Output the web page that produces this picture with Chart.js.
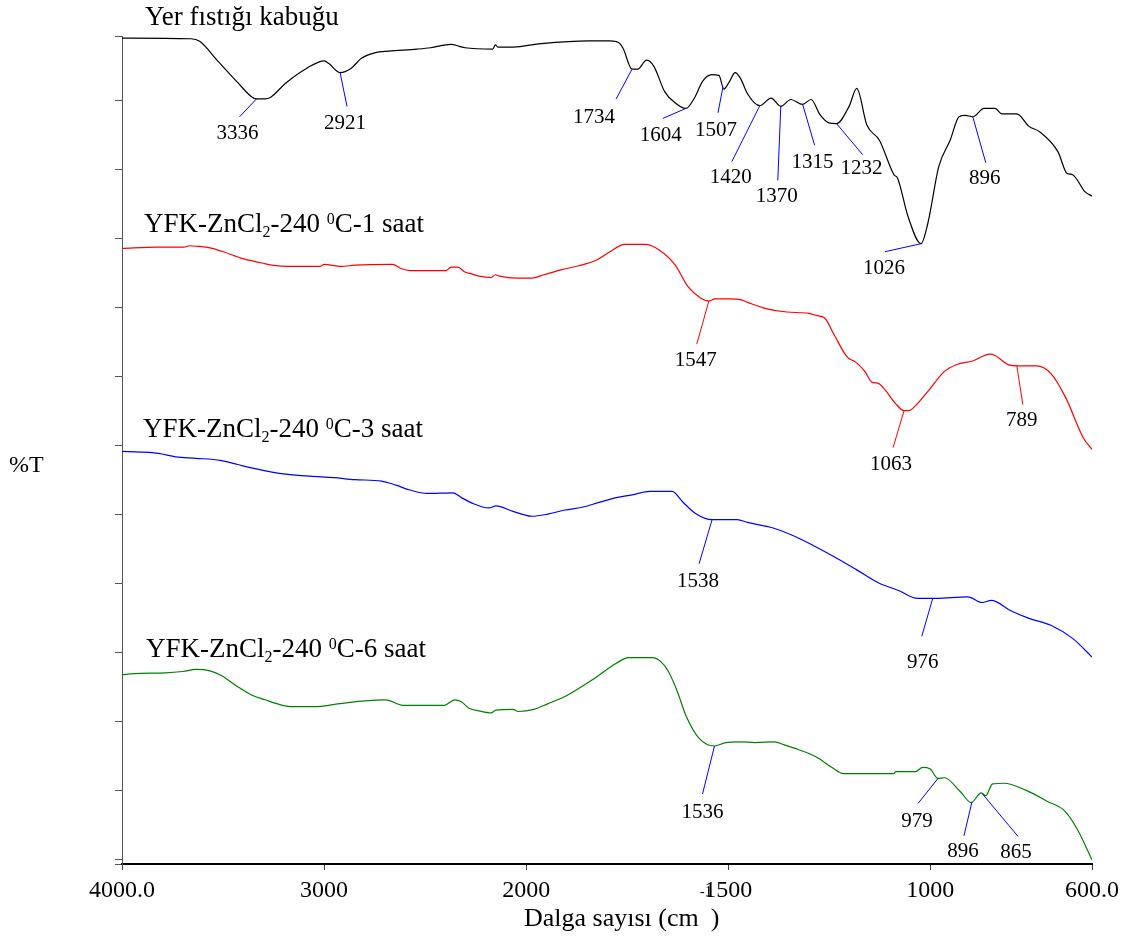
<!DOCTYPE html>
<html>
<head>
<meta charset="utf-8">
<title>FTIR - Yer fıstığı kabuğu</title>
<script src="https://cdn.jsdelivr.net/npm/chart.js@4.4.1/dist/chart.umd.min.js"></script>
<style>
  html, body { margin: 0; padding: 0; background: #fff; }
  #wrap { width: 1126px; height: 940px; }
</style>
</head>
<body>
<div id="wrap"><canvas id="ftirChart" width="1126" height="940"></canvas></div>
<script>
// x axis: wavenumber (cm-1), the scale is halved above 2000
const xTickValues = [4000, 3000, 2000, 1500, 1000, 600];
const xTickLabels = ["4000.0", "3000", "2000", "1500", "1000", "600.0"];
// y axis only has tick marks (stacked %T curves)
const yTickValues = [0, 0.7, 10.7, 20.7, 30.7, 40.7, 50.7, 60.7, 70.7, 80.7, 90.7, 100.7, 110.7, 120];

// [wavenumber, %T]
const shellSpectrum = [
  [4000, 119.7], [3659, 119.6], [3614, 119.2], [3530, 116.5], [3426, 113.2], [3359, 111.2],
  [3336, 110.9], [3293, 110.9], [3266, 111.1], [3189, 113.2], [3087, 115.3], [3000, 116.4],
  [2976, 116.0], [2921, 114.7], [2867, 115.3], [2814, 116.8], [2746, 117.6], [2679, 117.8],
  [2540, 118.1], [2473, 118.3], [2372, 118.8], [2330, 118.5], [2303, 118.3], [2166, 118.1],
  [2152, 118.7], [2140, 118.4], [2065, 118.4], [1963, 118.9], [1845, 119.3], [1794, 119.3],
  [1778, 119.2], [1768, 118.9],
  [1760, 118.2], [1738, 115.2], [1724, 115.2], [1702, 116.5], [1684, 115.6], [1657, 111.9],
  [1631, 110.3], [1605, 109.5], [1582, 111.2], [1564, 113.4], [1541, 114.4], [1523, 114.3],
  [1511, 112.3], [1497, 113.4], [1483, 114.7], [1470, 113.9], [1452, 111.6], [1422, 109.9],
  [1394, 111.0], [1370, 109.8], [1345, 110.8], [1316, 110.1], [1295, 110.8], [1273, 108.6],
  [1251, 107.4], [1232, 107.3], [1201, 109.8], [1182, 112.4], [1157, 107.1], [1126, 104.9],
  [1090, 99.9], [1081, 99.4], [1055, 93.8], [1023, 89.9], [1006, 92.9], [979, 101.1],
  [951, 104.9], [929, 108.3], [914, 108.5], [895, 108.3], [867, 109.5], [840, 109.5],
  [823, 108.7], [786, 108.7], [756, 106.9], [729, 106.1], [684, 103.2], [662, 100.1],
  [648, 99.9], [617, 97.4], [600, 96.8]
];
const zn1hSpectrum = [
  [4000, 89.2], [3827, 89.4], [3693, 89.4], [3666, 89.6], [3624, 89.5], [3565, 89.3],
  [3495, 88.7], [3411, 87.8], [3307, 87.1], [3258, 86.8], [3174, 86.6], [3020, 86.6],
  [3000, 86.9], [2916, 86.6], [2847, 86.8], [2661, 86.9], [2620, 86.3], [2575, 86.0],
  [2397, 86.0], [2372, 86.5], [2338, 86.5], [2303, 85.8], [2268, 85.5], [2234, 85.2],
  [2174, 85.0], [2152, 85.4], [2132, 85.2], [2047, 84.9], [1986, 84.9], [1956, 85.4],
  [1914, 86.1], [1870, 86.7], [1827, 87.5], [1794, 88.7], [1756, 89.8], [1706, 89.8],
  [1671, 89.0], [1631, 86.8], [1600, 83.7], [1568, 82.0], [1548, 81.6], [1533, 81.9],
  [1497, 81.9], [1470, 81.8], [1452, 81.4], [1407, 80.5], [1355, 80.0], [1300, 79.8],
  [1283, 79.5], [1261, 79.1], [1238, 76.7], [1206, 73.5], [1184, 72.7], [1162, 71.4],
  [1144, 69.8], [1130, 69.7], [1112, 68.7], [1087, 66.8], [1065, 65.7], [1053, 65.7],
  [1037, 66.4], [1006, 68.5], [965, 71.4], [934, 72.4], [895, 72.9], [853, 73.9],
  [840, 73.7], [804, 72.3], [782, 72.2], [737, 72.2], [702, 71.1], [666, 67.7],
  [621, 61.7], [600, 60.1]
];
const zn3hSpectrum = [
  [4000, 59.8], [3906, 59.7], [3819, 59.5], [3734, 59.0], [3634, 58.8], [3513, 58.5],
  [3428, 57.9], [3359, 57.4], [3258, 56.8], [3189, 56.5], [3070, 56.2], [2951, 56.0],
  [2847, 55.7], [2716, 55.5], [2644, 54.9], [2575, 54.2], [2491, 53.7], [2362, 53.8],
  [2320, 53.1], [2268, 52.3], [2184, 51.6], [2150, 51.9], [2065, 51.1], [1986, 50.4],
  [1947, 50.7], [1904, 51.3], [1862, 51.7], [1820, 52.4], [1777, 53.1], [1738, 53.5],
  [1694, 54.0], [1639, 54.0], [1613, 52.5], [1581, 50.8], [1540, 49.9], [1478, 49.9],
  [1452, 49.5], [1389, 48.7], [1336, 47.5], [1291, 46.2], [1237, 44.5], [1184, 42.7],
  [1130, 40.8], [1077, 39.6], [1032, 38.5], [987, 38.5], [907, 38.7], [872, 37.9],
  [849, 38.2], [801, 36.7], [756, 35.6], [702, 34.6], [648, 32.7], [600, 30.0]
];
const zn6hSpectrum = [
  [4000, 27.4], [3939, 27.6], [3785, 27.7], [3700, 27.9], [3632, 28.2], [3565, 28.0],
  [3513, 27.4], [3428, 25.7], [3359, 24.5], [3292, 23.8], [3206, 23.0], [3164, 22.8],
  [3045, 22.8], [2933, 23.2], [2814, 23.6], [2695, 23.8], [2610, 23.0], [2405, 23.0],
  [2354, 23.8], [2320, 23.5], [2285, 22.6], [2234, 22.2], [2174, 21.9], [2150, 22.3],
  [2065, 22.4], [2039, 22.1], [1981, 22.4], [1947, 23.2], [1897, 24.5], [1836, 26.7],
  [1777, 29.1], [1747, 29.9], [1689, 29.9], [1666, 29.3], [1648, 27.9], [1626, 25.0],
  [1604, 21.4], [1572, 18.2], [1534, 17.1], [1506, 17.6], [1470, 17.7], [1434, 17.6],
  [1385, 17.7], [1363, 17.3], [1327, 16.6], [1282, 15.5], [1246, 14.1], [1215, 13.1],
  [1090, 13.1], [1086, 13.4], [1037, 13.4], [1019, 14.0], [1001, 13.8], [981, 12.4],
  [965, 12.5], [926, 10.5], [899, 8.9], [874, 10.3], [863, 9.9], [846, 11.6],
  [818, 11.7], [764, 10.7], [711, 9.1], [666, 7.6], [635, 4.9], [600, 0.6]
];

// peak labels and the wavenumber where each leader line touches the curve
const shellPeakLabels = ["3336", "2921", "1734", "1604", "1507", "1420", "1370", "1315", "1232", "896", "1026"];
const shellPeakAt = [3334, 2921, 1738, 1605, 1513, 1422, 1370, 1316, 1232, 895, 1023];
const zn1hPeakLabels = ["1547", "1063", "789"];
const zn1hPeakAt = [1548, 1065, 786];
const zn3hPeakLabels = ["1538", "976"];
const zn3hPeakAt = [1540, 994];
const zn6hPeakLabels = ["1536", "979", "896", "865"];
const zn6hPeakAt = [1534, 981, 897, 872];

// leader line layout in px: [dx, dy] to the line end, [ldx, ldy] from there to the label centre
const shellLeaders = [[-17, 18, -2, 17], [7, 34, -2, 17], [-16, 30, -22, 18], [-23, 10, -2, 17],
  [-5, 26, -2, 18], [-28, 56, -1, 16], [-3, 74, -1, 16], [12, 41, -2, 17], [26, 31, -1, 14],
  [13, 46, -1, 16], [-36, 8, -1, 17]];
const zn1hLeaders = [[-12, 43, -1, 17], [-11, 37, -2, 17], [6, 39, -1, 16]];
const zn3hLeaders = [[-13, 44, -1, 18], [-11, 38, 1, 26]];
const zn6hLeaders = [[-12, 48, 0, 18], [-20, 25, -1, 18], [-8, 34, -1, 16], [36, 43, -2, 16]];

const SERIF = '"Liberation Serif", "Times New Roman", serif';

// compress the region above 2000 cm-1 to half scale
function toAxis(wn) {
  return wn <= 2000 ? wn : 2000 + (wn - 2000) / 2;
}

function valueAt(spectrum, wn) {
  for (let i = 0; i < spectrum.length - 1; i++) {
    const a = spectrum[i], b = spectrum[i + 1];
    if (wn <= a[0] && wn >= b[0]) {
      const f = (a[0] - wn) / (a[0] - b[0]);
      return a[1] + (b[1] - a[1]) * f;
    }
  }
  return spectrum[spectrum.length - 1][1];
}

const series = [
  { name: "Yer fıstığı kabuğu", data: shellSpectrum, color: "#000000", lead: "#0000ff",
    labels: shellPeakLabels, at: shellPeakAt, leaders: shellLeaders },
  { name: "YFK-ZnCl2-240 0C-1 saat", data: zn1hSpectrum, color: "#ff0000", lead: "#ff0000",
    labels: zn1hPeakLabels, at: zn1hPeakAt, leaders: zn1hLeaders },
  { name: "YFK-ZnCl2-240 0C-3 saat", data: zn3hSpectrum, color: "#0000ff", lead: "#0000ff",
    labels: zn3hPeakLabels, at: zn3hPeakAt, leaders: zn3hLeaders },
  { name: "YFK-ZnCl2-240 0C-6 saat", data: zn6hSpectrum, color: "#008000", lead: "#0000ff",
    labels: zn6hPeakLabels, at: zn6hPeakAt, leaders: zn6hLeaders }
];

// series captions: [x, baseline] in px
const captionPos = [[145, 25], [144, 232], [143, 437], [146, 657]];

function drawRich(ctx, parts, x, baseline, size) {
  let cx = x;
  parts.forEach(function (p) {
    const s = p.sub || p.sup ? Math.round(size * 0.6) : size;
    ctx.font = s + "px " + SERIF;
    const dy = p.sub ? size * 0.2 : p.sup ? -size * 0.31 : 0;
    ctx.fillText(p.t, cx, baseline + dy);
    cx += ctx.measureText(p.t).width;
  });
  return cx;
}

function zincParts(hours) {
  return [{ t: "YFK-ZnCl" }, { t: "2", sub: true }, { t: "-240 " }, { t: "0", sup: true }, { t: "C-" + hours + " saat" }];
}

const labelPlugin = {
  id: "ftirLabels",
  afterDraw(chart) {
    const ctx = chart.ctx;
    const xs = chart.scales.x, ys = chart.scales.y;
    ctx.save();
    ctx.fillStyle = "#000";
    ctx.textAlign = "left";
    ctx.textBaseline = "alphabetic";

    // captions
    ctx.font = "27px " + SERIF;
    ctx.fillText(series[0].name, captionPos[0][0], captionPos[0][1]);
    ["1", "3", "6"].forEach(function (h, i) {
      drawRich(ctx, zincParts(h), captionPos[i + 1][0], captionPos[i + 1][1], 27);
    });

    // y axis title
    ctx.font = "24px " + SERIF;
    ctx.fillText("%T", 9, 472);

    // x axis title (the -1 sits high, as in the original)
    ctx.font = "26px " + SERIF;
    ctx.fillText("Dalga sayısı (cm", 524, 926);
    const w = ctx.measureText("Dalga sayısı (cm").width;
    ctx.fillText(")", 524 + w + 12, 926);
    ctx.font = "15px " + SERIF;
    ctx.fillText("-1", 524 + w + 1, 896);

    // peak markers
    series.forEach(function (s) {
      s.labels.forEach(function (lab, i) {
        const wn = s.at[i];
        const px = xs.getPixelForValue(toAxis(wn));
        const py = ys.getPixelForValue(valueAt(s.data, wn));
        const L = s.leaders[i];
        const ex = px + L[0], ey = py + L[1];
        ctx.strokeStyle = s.lead;
        ctx.lineWidth = 1;
        ctx.beginPath();
        ctx.moveTo(px, py);
        ctx.lineTo(ex, ey);
        ctx.stroke();
        ctx.fillStyle = "#000";
        ctx.font = "21px " + SERIF;
        ctx.textAlign = "center";
        ctx.textBaseline = "middle";
        ctx.fillText(lab, ex + L[2], ey + L[3]);
      });
    });
    ctx.restore();
  }
};

Chart.defaults.font.family = SERIF;
Chart.defaults.color = "#000";

const chartCanvas = document.getElementById("ftirChart");
window.ftirChart = new Chart(chartCanvas, {
  type: "line",
  data: {
    datasets: series.map(function (s) {
      return {
        label: s.name,
        data: s.data.map(function (p) { return { x: toAxis(p[0]), y: p[1] }; }),
        borderColor: s.color,
        borderWidth: 1.2,
        pointRadius: 0,
        fill: false,
        cubicInterpolationMode: "monotone"
      };
    })
  },
  options: {
    responsive: false,
    animation: false,
    devicePixelRatio: 1,
    layout: { padding: { left: 0, top: 36, right: 34, bottom: 0 } },
    plugins: {
      legend: { display: false },
      tooltip: { enabled: false }
    },
    scales: {
      x: {
        type: "linear",
        reverse: true,
        min: 600,
        max: 3000,
        afterBuildTicks: function (scale) {
          scale.ticks = xTickValues.map(function (v) { return { value: toAxis(v) }; });
        },
        afterFit: function (scale) { scale.height = 76; },
        ticks: {
          autoSkip: false,
          maxRotation: 0,
          padding: 6,
          color: "#000",
          font: { family: SERIF, size: 24 },
          callback: function (value, index) { return xTickLabels[index]; }
        },
        grid: { drawOnChartArea: false, drawTicks: true, tickLength: 6, color: "#444", lineWidth: 1 },
        border: { display: true, color: "#000", width: 2 }
      },
      y: {
        min: 0,
        max: 120,
        afterBuildTicks: function (scale) {
          scale.ticks = yTickValues.map(function (v) { return { value: v }; });
        },
        afterFit: function (scale) { scale.width = 122; },
        ticks: { display: false },
        grid: { drawOnChartArea: false, drawTicks: true, tickLength: 7, color: "#555", lineWidth: 1 },
        border: { display: true, color: "#555", width: 1 }
      }
    }
  },
  plugins: [labelPlugin]
});
</script>
</body>
</html>
